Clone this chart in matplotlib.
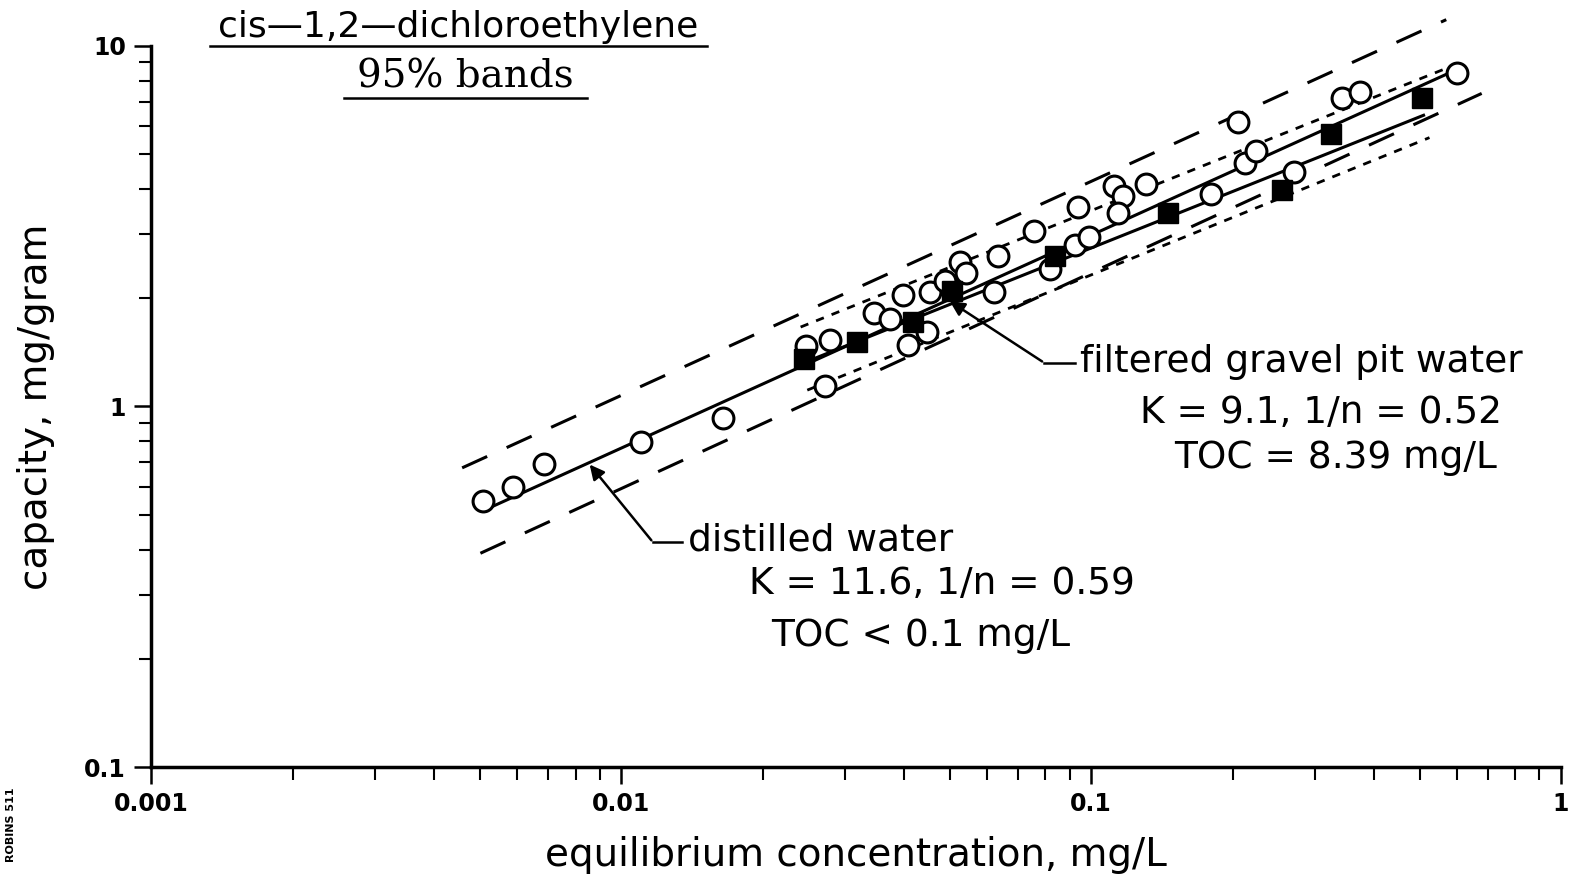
import matplotlib
matplotlib.use("Agg")
import matplotlib.pyplot as plt
from matplotlib.lines import Line2D
import numpy as np

# open circles (distilled water)
dist_x = [0.00509, 0.00590, 0.00684, 0.0110, 0.0165, 0.0247, 0.0278, 0.0272,
          0.0345, 0.0373, 0.0398, 0.0407, 0.0447, 0.0455, 0.0490, 0.0527,
          0.0543, 0.0621, 0.0635, 0.0758, 0.0816, 0.0937, 0.0925, 0.0991,
          0.112, 0.117, 0.114, 0.131, 0.180, 0.205, 0.213, 0.224, 0.270,
          0.342, 0.374, 0.600]
dist_y = [0.547, 0.598, 0.693, 0.799, 0.932, 1.47, 1.53, 1.14,
          1.82, 1.75, 2.04, 1.48, 1.61, 2.07, 2.22, 2.52,
          2.34, 2.07, 2.62, 3.06, 2.40, 3.57, 2.81, 2.94,
          4.08, 3.83, 3.43, 4.13, 3.88, 6.16, 4.73, 5.11, 4.47,
          7.18, 7.42, 8.38]

# filled squares (filtered gravel pit water)
grav_x = [0.0245, 0.0318, 0.0417, 0.0507, 0.0838, 0.146, 0.255, 0.324, 0.507]
grav_y = [1.35, 1.51, 1.71, 2.09, 2.62, 3.43, 3.98, 5.70, 7.14]

# Freundlich fits q = K * C^(1/n)
K_dist, n_dist = 11.6, 0.59
K_grav, n_grav = 9.1, 0.52
dist_range = [0.0051, 0.62]
grav_range = [0.0245, 0.51]

# 95% bands, end points
dist_up_x, dist_up_y = [0.00459, 0.570], [0.676, 11.8]
dist_lo_x, dist_lo_y = [0.00502, 0.678], [0.392, 7.37]
grav_up_x, grav_up_y = [0.0241, 0.570], [1.66, 8.65]
grav_lo_x, grav_lo_y = [0.0249, 0.525], [1.11, 5.56]

xticks = [0.001, 0.01, 0.1, 1]
xticklabels = ["0.001", "0.01", "0.1", "1"]
yticks = [0.1, 1, 10]
yticklabels = ["0.1", "1", "10"]

fig = plt.figure(figsize=(15.79, 8.77), dpi=100)
ax = fig.add_axes([0.0957, 0.125, 0.8929, 0.823])
ax.set_xscale("log")
ax.set_yscale("log")
ax.set_xlim(0.001, 1)
ax.set_ylim(0.1, 10)

# fitted lines
cx = np.array(dist_range)
ax.plot(cx, K_dist * cx ** n_dist, color="k", lw=2.2)
cx = np.array(grav_range)
ax.plot(cx, K_grav * cx ** n_grav, color="k", lw=2.2)

# bands
ax.plot(dist_up_x, dist_up_y, color="k", lw=2.2, dashes=(9, 7), clip_on=False)
ax.plot(dist_lo_x, dist_lo_y, color="k", lw=2.2, dashes=(9, 7), clip_on=False)
ax.plot(grav_up_x, grav_up_y, color="k", lw=2.0, dashes=(3, 3), clip_on=False)
ax.plot(grav_lo_x, grav_lo_y, color="k", lw=2.0, dashes=(3, 3), clip_on=False)

# points
ax.plot(dist_x, dist_y, "o", ms=15, mfc="white", mec="k", mew=2.2)
ax.plot(grav_x, grav_y, "s", ms=14, mfc="k", mec="k")

for s in ["top", "right"]:
    ax.spines[s].set_visible(False)
ax.spines["left"].set_linewidth(2.5)
ax.spines["bottom"].set_linewidth(2.5)

ax.set_xticks(xticks)
ax.set_xticklabels(xticklabels, fontsize=17, fontweight="bold")
ax.set_yticks(yticks)
ax.set_yticklabels(yticklabels, fontsize=17, fontweight="bold")
ax.tick_params(which="major", direction="out", length=12, width=1.8, pad=6)
ax.tick_params(which="minor", direction="out", length=9, width=1.5)
ax.yaxis.set_minor_formatter(matplotlib.ticker.NullFormatter())
ax.xaxis.set_minor_formatter(matplotlib.ticker.NullFormatter())

ax.set_xlabel("equilibrium concentration, mg/L", fontsize=28, labelpad=14)
ax.set_ylabel("capacity, mg/gram", fontsize=28)
ax.yaxis.set_label_coords(-0.068, 0.5)

# titles
fig.text(0.290, 0.969, "cis\u20141,2\u2014dichloroethylene", fontsize=26,
         ha="center", va="center")
fig.add_artist(Line2D([0.133, 0.448], [0.948, 0.948], color="k", lw=1.8))
fig.text(0.295, 0.912, "95% bands", fontsize=28, family="DejaVu Serif",
         ha="center", va="center")
fig.add_artist(Line2D([0.218, 0.372], [0.888, 0.888], color="k", lw=1.8))

# annotations
ax.annotate("", xy=(0.0495, 1.976), xytext=(0.0796, 1.32),
            arrowprops=dict(arrowstyle="-|>", color="k", lw=1.8,
                            mutation_scale=22))
ax.plot([0.0796, 0.0925], [1.32, 1.32], color="k", lw=1.8)
ax.text(0.0947, 1.33, "filtered gravel pit water", fontsize=27,
        ha="left", va="center")
ax.text(0.308, 0.962, "K = 9.1, 1/n = 0.52", fontsize=27, ha="center", va="center")
ax.text(0.332, 0.721, "TOC = 8.39 mg/L", fontsize=27, ha="center", va="center")

ax.annotate("", xy=(0.0085, 0.70), xytext=(0.0117, 0.42),
            arrowprops=dict(arrowstyle="-|>", color="k", lw=1.8,
                            mutation_scale=22))
ax.plot([0.0117, 0.0135], [0.42, 0.42], color="k", lw=1.8)
ax.text(0.0139, 0.426, "distilled water", fontsize=27, ha="left", va="center")
ax.text(0.0481, 0.323, "K = 11.6, 1/n = 0.59", fontsize=27, ha="center", va="center")
ax.text(0.0435, 0.231, "TOC < 0.1 mg/L", fontsize=27, ha="center", va="center")

fig.text(0.004, 0.06, "ROBINS 511", fontsize=8, fontweight="bold",
         rotation=90, ha="left", va="center")

fig.savefig("out.png", dpi=100)
